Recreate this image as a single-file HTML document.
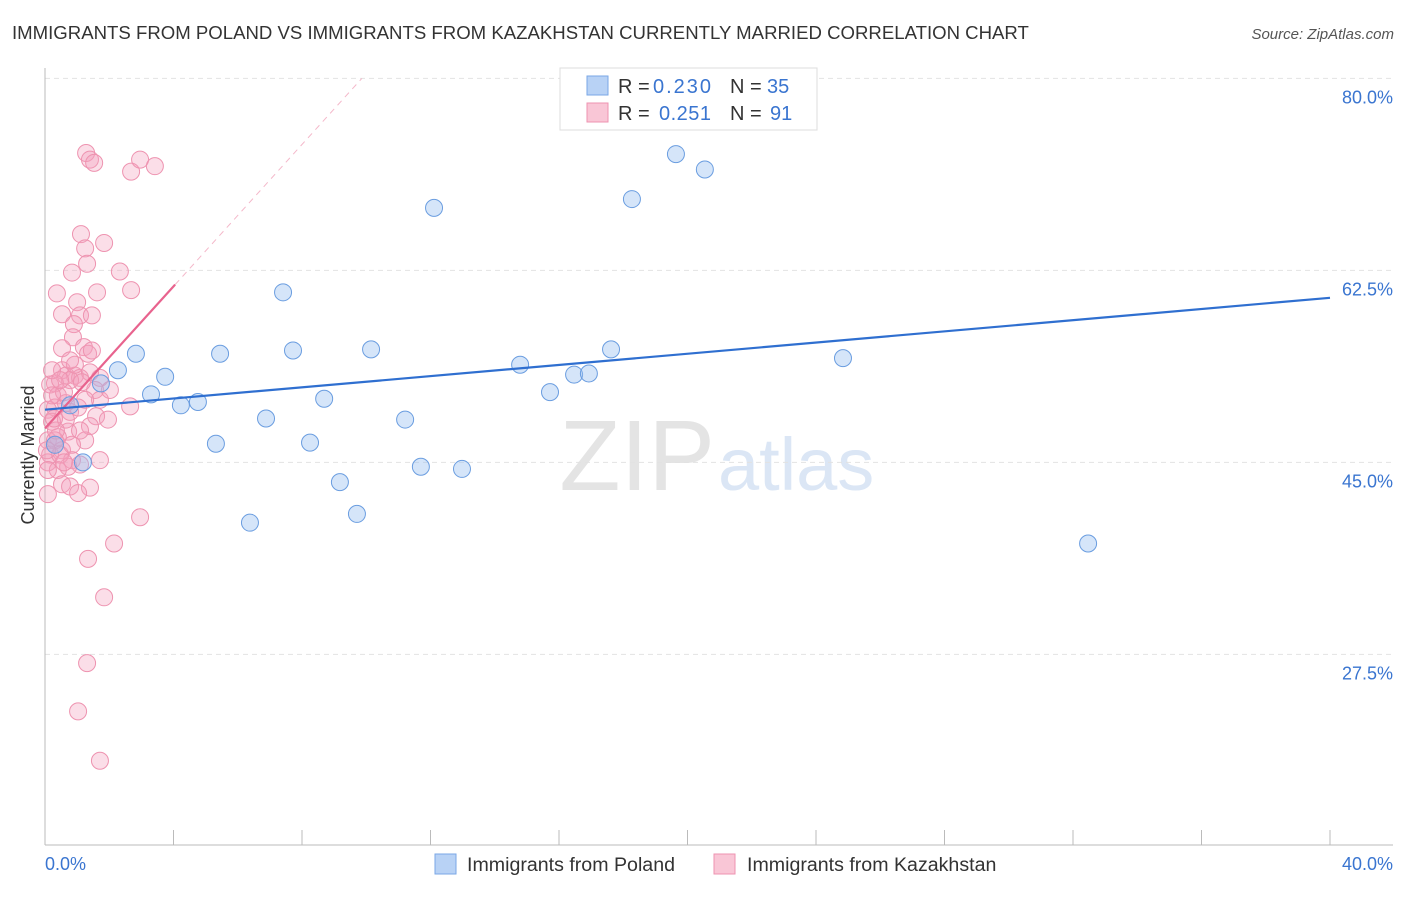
<!DOCTYPE html>
<html><head><meta charset="utf-8"><style>
body{margin:0;background:#fff;font-family:"Liberation Sans",sans-serif;}
svg text{font-family:"Liberation Sans",sans-serif;}
</style></head><body>
<svg id="chart" width="1406" height="892" viewBox="0 0 1406 892">
<text x="12" y="39" font-size="18.6" fill="#333">IMMIGRANTS FROM POLAND VS IMMIGRANTS FROM KAZAKHSTAN CURRENTLY MARRIED CORRELATION CHART</text>
<text x="1394" y="39" font-size="15" fill="#555" text-anchor="end" font-style="italic">Source: ZipAtlas.com</text>
<text x="715" y="490" font-size="100" fill="#e4e4e4" text-anchor="end" font-family="Liberation Serif">ZIP</text>
<text x="718" y="490" font-size="74" fill="#dbe6f5">atlas</text>
<g id="grid"></g><g id="axes"></g>
<g id="pts"></g><g id="trends"></g>
<text transform="translate(34,455) rotate(-90)" font-size="18" fill="#333" text-anchor="middle">Currently Married</text>
<g>
<rect x="560" y="68" width="257" height="62" fill="#fff" stroke="#ddd"/>
<rect x="587" y="76" width="21" height="19" fill="#b8d2f5" stroke="#7aa7e6"/>
<rect x="587" y="103" width="21" height="19" fill="#f9c6d6" stroke="#ee93b0"/>
<text x="618" y="93" font-size="20" fill="#333">R =</text>
<text x="653" y="93" font-size="20" fill="#3a75d0" textLength="58">0.230</text>
<text x="730" y="93" font-size="20" fill="#333">N =</text>
<text x="767" y="93" font-size="20" fill="#3a75d0">35</text>
<text x="618" y="120" font-size="20" fill="#333">R =</text>
<text x="659" y="120" font-size="20" fill="#3a75d0" textLength="52">0.251</text>
<text x="730" y="120" font-size="20" fill="#333">N =</text>
<text x="770" y="120" font-size="20" fill="#3a75d0">91</text>
</g>
<g>
<rect x="435" y="854" width="21" height="20" fill="#b8d2f5" stroke="#7aa7e6"/>
<text x="467" y="871" font-size="19.6" fill="#333">Immigrants from Poland</text>
<rect x="714" y="854" width="21" height="20" fill="#f9c6d6" stroke="#ee93b0"/>
<text x="747" y="871" font-size="19.6" fill="#333">Immigrants from Kazakhstan</text>
</g>
<text x="45" y="870" font-size="18" fill="#3a75d0">0.0%</text>
<text x="1393" y="870" font-size="18" fill="#3a75d0" text-anchor="end">40.0%</text>
</svg>
<script>
const yTicks=[80,62.5,45,27.5];
const yTickLabels=["80.0%","62.5%","45.0%","27.5%"];
const xTicks=[0,4,8,12,16,20,24,28,32,36,40];
const polandX=[2.83,2.27,1.74,3.30,3.74,4.23,4.76,5.45,6.88,7.41,7.72,8.25,8.69,9.18,9.71,10.15,11.21,11.70,12.11,12.98,14.79,15.72,16.47,16.93,17.62,18.27,19.64,20.54,24.84,32.47,6.38,5.32,0.78,1.18,0.31];
const polandY=[54.9,53.4,52.2,51.2,52.8,50.2,50.5,54.9,49.0,60.5,55.2,46.8,50.8,43.2,40.3,55.3,48.9,44.6,68.2,44.4,53.9,51.4,53.0,53.1,55.3,69.0,73.1,71.7,54.5,37.6,39.5,46.7,50.2,45.0,46.6];
const kazX=[1.28,1.40,1.53,2.68,2.96,3.42,1.12,1.25,1.84,1.31,0.84,2.33,0.37,1.62,2.68,1.00,0.53,1.09,1.46,0.90,0.87,0.53,1.21,1.34,0.53,0.93,0.65,1.09,0.78,1.71,0.31,0.16,1.56,0.40,0.65,0.31,0.09,2.65,1.71,0.78,1.59,1.96,1.40,0.22,0.72,0.40,0.09,0.31,1.25,0.53,0.16,0.84,1.09,0.72,0.09,0.40,0.53,0.78,1.40,0.09,1.03,2.96,2.15,1.34,1.84,1.31,1.03,1.71,0.31,0.47,0.65,0.93,0.22,1.40,0.59,1.03,0.22,0.34,1.15,0.47,0.06,0.84,1.71,1.25,2.02,0.09,1.09,0.59,1.46,0.78,0.28];
const kazY=[73.2,72.6,72.3,71.5,72.6,72.0,65.8,64.5,65.0,63.1,62.3,62.4,60.4,60.5,60.7,59.6,58.5,58.4,58.4,57.6,56.4,55.4,55.5,54.9,53.4,52.9,52.9,52.7,52.5,52.7,52.2,52.1,51.6,51.1,50.4,50.0,49.8,50.1,50.7,49.6,49.2,48.9,48.3,48.7,47.8,47.3,47.0,46.6,47.0,46.1,45.7,45.2,44.8,44.6,45.0,44.3,43.0,42.8,42.7,42.1,42.2,40.0,37.6,36.2,32.7,26.7,22.3,17.8,47.0,45.7,48.9,53.9,53.4,53.2,51.4,50.0,51.1,47.9,52.3,52.5,46.1,46.6,45.2,50.7,51.6,44.3,47.9,45.0,55.2,54.3,49.0];
const polandTrend=[49.8,60.0];
const kazTrend=[48.1,61.2];
const NS="http://www.w3.org/2000/svg";
const X=v=>45+v*32.125, Y=v=>956-v*10.97;
function mk(t,a,p){const e=document.createElementNS(NS,t);for(const k in a)e.setAttribute(k,a[k]);p.appendChild(e);return e;}
const grid=document.getElementById('grid'),axes=document.getElementById('axes');
yTicks.forEach((t,i)=>{
 const l=mk('line',{x1:45,x2:1393,y1:Y(t),y2:Y(t),stroke:'#e2e2e2','stroke-dasharray':'5,4'},grid);
 
 
 const tx=mk('text',{x:1393,y:Y(t)+25,'font-size':18,fill:'#3a75d0','text-anchor':'end'},grid);
 tx.textContent=yTickLabels[i];
 
 
});
mk('line',{x1:45,x2:45,y1:68,y2:845,stroke:'#bbb'},axes);
mk('line',{x1:45,x2:1393,y1:845,y2:845,stroke:'#bbb'},axes);
xTicks.forEach(t=>{
 const l=mk('line',{x1:X(t),x2:X(t),y1:830,y2:845,stroke:'#bbb'},axes);
 
 
});
const pts=document.getElementById('pts');
kazX.forEach((v,i)=>{
 const c=mk('circle',{cx:X(v),cy:Y(kazY[i]),r:8.5,fill:'rgba(244,160,188,0.35)',stroke:'#ee93b0','stroke-width':1},pts);
 
 
});
polandX.forEach((v,i)=>{
 const c=mk('circle',{cx:X(v),cy:Y(polandY[i]),r:8.5,fill:'rgba(150,190,240,0.4)',stroke:'#6a9de0','stroke-width':1},pts);
 
 
});
const tr=document.getElementById('trends');
const ks=(kazTrend[1]-kazTrend[0])/4.05;
const kd=mk('line',{x1:X(4.05),y1:Y(kazTrend[1]),x2:X((80-kazTrend[0])/ks),y2:Y(80),stroke:'#f4b8ca','stroke-dasharray':'6,5','stroke-width':1},tr);


const kl=mk('line',{x1:X(0),y1:Y(kazTrend[0]),x2:X(4.05),y2:Y(kazTrend[1]),stroke:'#e8638e','stroke-width':2.2},tr);


const pl=mk('line',{x1:X(0),y1:Y(polandTrend[0]),x2:X(40),y2:Y(polandTrend[1]),stroke:'#2f6fd0','stroke-width':2.2},tr);


</script>
</body></html>
